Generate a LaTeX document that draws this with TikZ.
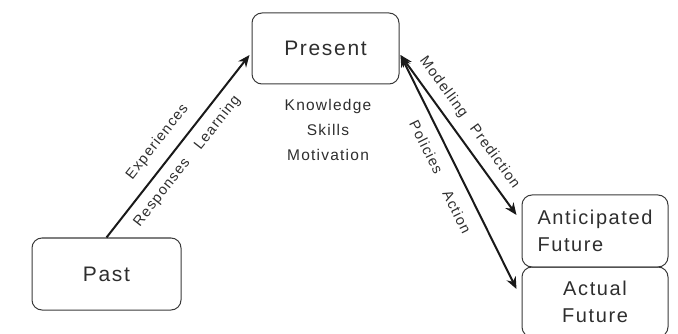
\documentclass[tikz,border=0pt]{standalone}
\usepackage{fontspec}
\setmainfont{Liberation Sans}[LetterSpace=8]
\usetikzlibrary{arrows.meta}
\definecolor{ink}{HTML}{2E2E2E}
\definecolor{frame}{HTML}{3A3A3A}
\begin{document}
\begin{tikzpicture}[x=1pt,y=-1pt,
  stage/.style={draw=frame, line width=1pt, rounded corners=10pt, inner sep=0pt,
    text=ink, font=\fontsize{21}{25}\selectfont},
  future/.style={stage, minimum width=146pt, font=\fontsize{20}{27}\selectfont},
  flow/.style={line width=2pt, draw=black!90, -{Stealth[length=12pt,width=10pt]}},
  twoway/.style={flow, {Stealth[length=12pt,width=10pt]}-{Stealth[length=12pt,width=10pt]}},
  tag/.style={sloped, inner sep=0pt, text=ink, font=\fontsize{14.5}{18}\selectfont}]
\useasboundingbox (0,0) rectangle (678,334);

% stages
\node[stage, minimum width=147pt, minimum height=71pt] (present) at (325.5,48.5) {Present};
\node[stage, minimum width=149pt, minimum height=72pt] (past) at (106.5,274) {Past};
\node[future, minimum height=72pt, align=left] (anticipated) at (595,231) {Anticipated\\Future};
\node[future, minimum height=70pt, align=center] (actual) at (595,302) {Actual\\Future};

% attributes of the present
\node[anchor=north, align=center, inner sep=0pt, text=ink,
  font=\fontsize{15.5}{25}\selectfont] (traits) at (328,99.5) {Knowledge\\Skills\\Motivation};

% past feeds the present
\draw[flow] (past.north) -- ([xshift=-2pt,yshift=-6.5pt]present.west)
  node[tag, pos=0.46, above=11pt] {Experiences}
  node[tag, pos=0.30, below=9pt] {Responses}
  node[tag, pos=0.685, below=9pt] {Learning};

% present and the two futures
\draw[twoway] ([xshift=1pt,yshift=-6.5pt]present.east) -- ([xshift=-5pt,yshift=16pt]anticipated.west)
  node[tag, pos=0.26, above=8pt] {Modelling}
  node[tag, pos=0.695, above=11.5pt] {Prediction};
\draw[twoway] ([xshift=1pt,yshift=-6.5pt]present.east) -- ([xshift=-5pt,yshift=13pt]actual.west)
  node[tag, pos=0.36, below=11.4pt] {Policies}
  node[tag, pos=0.634, below=12.7pt] {Action};
\end{tikzpicture}
\end{document}
